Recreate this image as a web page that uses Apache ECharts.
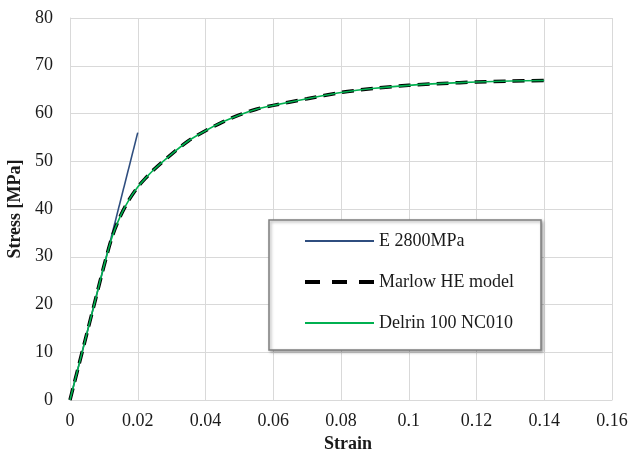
<!DOCTYPE html>
<html><head><meta charset="utf-8">
<script src="https://cdn.jsdelivr.net/npm/echarts@6/dist/echarts.min.js"></script>
<style>html,body{margin:0;padding:0;background:#fff}#c{width:630px;height:450px}</style>
</head><body><div id="c"></div>
<script>
const xTicks = [0, 0.02, 0.04, 0.06, 0.08, 0.1, 0.12, 0.14, 0.16];
const yTicks = [0, 10, 20, 30, 40, 50, 60, 70, 80];
const eStrain = [0, 0.02];
const eStress = [0, 56];
const marlowStrain = [0, 0.0025, 0.005, 0.0075, 0.01, 0.0125, 0.015, 0.0175, 0.02, 0.0225, 0.025, 0.03, 0.035, 0.04, 0.045, 0.05, 0.055, 0.06, 0.07, 0.08, 0.09, 0.10, 0.11, 0.12, 0.13, 0.14];
const marlowStress = [0, 7, 14, 21, 28, 34.3, 38.7, 42.0, 44.6, 46.6, 48.4, 51.5, 54.3, 56.4, 58.2, 59.7, 60.9, 61.7, 63.1, 64.4, 65.3, 65.9, 66.3, 66.6, 66.8, 66.9];
const delrinStrain = [0, 0.0025, 0.005, 0.0075, 0.01, 0.0125, 0.015, 0.0175, 0.02, 0.0225, 0.025, 0.03, 0.035, 0.04, 0.045, 0.05, 0.055, 0.06, 0.07, 0.08, 0.09, 0.10, 0.11, 0.12, 0.13, 0.14];
const delrinStress = [0, 7, 14, 21, 28, 34.3, 38.7, 42.0, 44.6, 46.6, 48.4, 51.5, 54.3, 56.4, 58.2, 59.7, 60.9, 61.7, 63.1, 64.4, 65.3, 65.9, 66.3, 66.6, 66.8, 66.9];
const names = ['E 2800MPa', 'Marlow HE model', 'Delrin 100 NC010'];

const pairs = (xs, ys) => xs.map((x, i) => [x, ys[i]]);
const FONT = '"Liberation Serif", "Times New Roman", serif';
const chart = echarts.init(document.getElementById('c'), null, {renderer: 'canvas'});
chart.setOption({
  animation: false,
  backgroundColor: '#fff',
  grid: {left: 70, right: 18, top: 18, bottom: 50, containLabel: false, outerBoundsMode: 'none'},
  xAxis: {
    type: 'value', min: xTicks[0], max: xTicks[xTicks.length - 1], interval: 0.02,
    axisLine: {show: true, lineStyle: {color: '#d9d9d9', width: 1}},
    axisTick: {show: false},
    splitLine: {show: true, lineStyle: {color: '#d9d9d9', width: 1}},
    axisLabel: {fontFamily: FONT, fontSize: 18, color: '#1a1a1a', margin: 12,
      formatter: v => String(parseFloat(v.toFixed(2)))},
    name: 'Strain', nameLocation: 'middle', nameGap: 32,
    nameTextStyle: {fontFamily: FONT, fontSize: 18, fontWeight: 'bold', color: '#1a1a1a', padding: [0, 0, 0, 14]}
  },
  yAxis: {
    type: 'value', min: yTicks[0], max: yTicks[yTicks.length - 1], interval: 10,
    axisLine: {show: true, lineStyle: {color: '#d9d9d9', width: 1}},
    axisTick: {show: false},
    splitLine: {show: true, lineStyle: {color: '#d9d9d9', width: 1}},
    axisLabel: {fontFamily: FONT, fontSize: 18, color: '#1a1a1a', margin: 17},
    name: 'Stress [MPa]', nameLocation: 'middle', nameGap: 41,
    nameTextStyle: {fontFamily: FONT, fontSize: 18, fontWeight: 'bold', color: '#1a1a1a'}
  },
  graphic: [{
    type: 'rect', z: 3, shape: {x: 269, y: 220, width: 272, height: 130},
    style: {fill: '#fff', stroke: '#7f7f7f', lineWidth: 1.5, shadowBlur: 3, shadowOffsetX: 1.5, shadowOffsetY: 1.5, shadowColor: 'rgba(0,0,0,0.35)'}
  }],
  legend: {
    orient: 'vertical', left: 303, top: 232, padding: 0, z: 5,
    itemWidth: 69, itemHeight: 20, itemGap: 23,
    itemStyle: {opacity: 0},
    textStyle: {fontFamily: FONT, fontSize: 18, color: '#1a1a1a', padding: [0, 0, 0, 0]},
    data: [
      {name: names[0]},
      {name: names[1], lineStyle: {type: [15, 12], width: 4}},
      {name: names[2]}
    ]
  },
  series: [
    {name: names[0], type: 'line', data: pairs(eStrain, eStress), showSymbol: false, symbol: 'none',
      lineStyle: {color: '#2f4e7f', width: 1.6}, itemStyle: {color: '#2f4e7f'}, z: 2},
    {name: names[1], type: 'line', data: pairs(marlowStrain, marlowStress), showSymbol: false, symbol: 'none', smooth: 0.3,
      lineStyle: {color: '#000', width: 3.5, type: [12, 7]}, itemStyle: {color: '#000'}, z: 3},
    {name: names[2], type: 'line', data: pairs(delrinStrain, delrinStress), showSymbol: false, symbol: 'none', smooth: 0.3,
      lineStyle: {color: '#00b050', width: 1.6}, itemStyle: {color: '#00b050'}, z: 4}
  ]
});
</script></body></html>
